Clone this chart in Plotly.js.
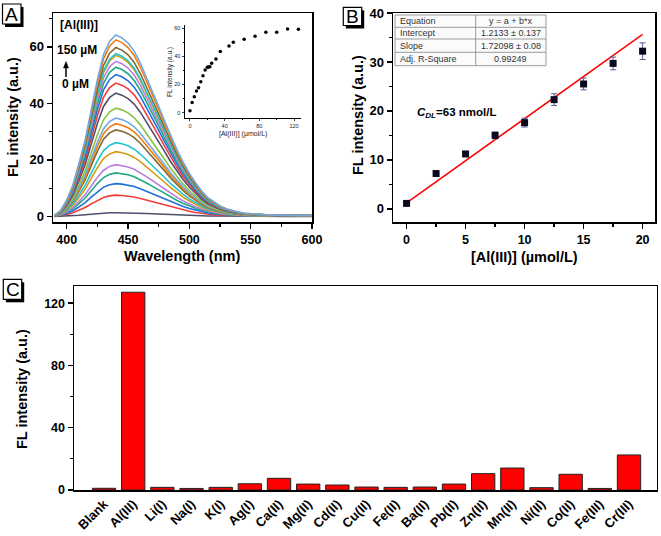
<!DOCTYPE html>
<html>
<head>
<meta charset="utf-8">
<script src="https://cdn.plot.ly/plotly-3.0.1.min.js"></script>
<style>html,body{margin:0;padding:0;background:#fff;}#chart{width:661px;height:536px;}</style>
</head>
<body>
<div id="chart"></div>
<script>
// ---------- Panel A data ----------
const wavelength = [390,395,400,405,410,415,420,425,430,435,440,445,450,455,460,465,470,475,480,485,490,495,500,505,510,515,520,525,530,535,540,545,550,555,560,565,570,575,580,585,590,595,600];
// highest spectrum (150 µM)
const topSpectrum = [0.3,2.0,5.7,11,18.7,27,37.7,48.4,57.3,62,64.2,63.2,61.4,58.5,54.3,49.3,44.2,38.9,33.6,28.2,23.5,19.1,15.2,11.9,9.0,6.6,5.1,3.7,2.7,2.0,1.5,1.1,0.9,0.7,0.6,0.5,0.45,0.4,0.35,0.3,0.3,0.3,0.3];
// peak heights of each spectrum (0 µM -> 150 µM)
const spectrumPeaks = [1.3,7.5,11.6,15.4,18.3,22.9,26.1,30.6,32.8,34.8,38.3,43.6,47.2,50.2,52.8,54.9,57.0,57.6,59.8,62.5,64.2];
const spectrumColors = ['#4f4f6e','#f23b3b','#1e6fdc','#22a884','#b97ee0','#d69a12','#20c5cc','#7e6a2e','#f57a12','#6ea8e6','#86c440'];
// inset
const insetConc = [0,2.5,5,7.5,10,12.5,15,17.5,20,21.5,23,25,30,35,45,50,62.5,75,87.5,100,112.5,125];
const insetFL = [1.4,7.3,11.4,15.4,17.8,22.0,26.3,30.4,32.3,32.5,32.6,35.1,38.2,43.4,47.4,50.0,52.2,54.3,57.1,57.1,59.5,59.3];

// ---------- Panel B data ----------
const linConc = [0,2.5,5,7.5,10,12.5,15,17.5,20];
const linFL = [1.1,7.2,11.2,15.0,17.6,22.3,25.5,29.7,32.2];
const linErr = [0.3,0.3,0.5,0.7,0.9,1.2,1.2,1.3,1.7];
const fitIntercept = 1.2133;
const fitSlope = 1.72098;
const fitRange = [0,20];
const tableLabels = ['Equation','Intercept','Slope','Adj. R-Square'];
const tableValues = ['y = a + b*x','1.2133 ± 0.137','1.72098 ± 0.08','0.99249'];

// ---------- Panel C data ----------
const ions = ['Blank','Al(III)','Li(I)','Na(I)','K(I)','Ag(I)','Ca(II)','Mg(II)','Cd(II)','Cu(II)','Fe(II)','Ba(II)','Pb(II)','Zn(II)','Mn(II)','Ni(II)','Co(II)','Fe(III)','Cr(III)'];
const ionFL = [1.1,127,1.7,1.0,1.7,4.0,7.5,3.8,3.2,1.9,1.7,1.9,3.8,10.5,14.1,1.5,10.1,1.0,22.5];

// ---------- helpers ----------
const W = 661, H = 536;
const px = x => x / W;
const py = y => 1 - y / H;
const FONT = 'Liberation Sans, Arial, sans-serif';

const traces = [];
const maxTop = Math.max(...topSpectrum);
spectrumPeaks.forEach((pk, i) => {
  traces.push({
    type: 'scatter', mode: 'lines', x: wavelength,
    y: topSpectrum.map(v => v * pk / maxTop),
    xaxis: 'x', yaxis: 'y',
    line: {color: spectrumColors[i % spectrumColors.length], width: 1.6},
    hoverinfo: 'skip', showlegend: false
  });
});
traces.push({
  type: 'scatter', mode: 'markers', x: insetConc, y: insetFL,
  xaxis: 'x4', yaxis: 'y4', marker: {color: '#000', size: 3.5}, showlegend: false
});
traces.push({
  type: 'scatter', mode: 'lines', x: fitRange,
  y: fitRange.map(v => fitIntercept + fitSlope * v),
  xaxis: 'x2', yaxis: 'y2', line: {color: '#ff0000', width: 1.5}, showlegend: false
});
traces.push({
  type: 'scatter', mode: 'markers', x: linConc, y: linFL,
  error_y: {type: 'data', array: linErr, color: '#5b5b95', thickness: 1, width: 3},
  xaxis: 'x2', yaxis: 'y2', marker: {symbol: 'square', color: '#0a0a1e', size: 7}, showlegend: false
});
traces.push({
  type: 'bar', x: ions, y: ionFL, xaxis: 'x3', yaxis: 'y3', width: 0.8,
  marker: {color: '#ff0000', line: {color: '#222', width: 1}}, showlegend: false
});

function ax(extra) {
  return Object.assign({
    showline: true, linecolor: '#000', linewidth: 1.5, mirror: true,
    ticks: 'outside', ticklen: 5, tickwidth: 1.5, tickcolor: '#000',
    showgrid: false, zeroline: false,
    tickfont: {family: FONT, size: 12.5, color: '#000', weight: 'bold'}
  }, extra);
}

const shapes = [];
const annotations = [];
function label(letter, x0, y0, x1, y1) {
  shapes.push({type: 'rect', xref: 'paper', yref: 'paper', x0: px(x0 + 2.5), x1: px(x1 + 2.5), y0: py(y1 + 3), y1: py(y0 + 3), fillcolor: '#000', line: {width: 0}});
  shapes.push({type: 'rect', xref: 'paper', yref: 'paper', x0: px(x0), x1: px(x1), y0: py(y1), y1: py(y0), fillcolor: '#fff', line: {color: '#000', width: 1.2}});
  annotations.push({xref: 'paper', yref: 'paper', x: px((x0 + x1) / 2), y: py((y0 + y1) / 2), text: letter, showarrow: false, xanchor: 'center', yanchor: 'middle', font: {family: FONT, size: 19, color: '#000'}});
}
label('A', 2.5, 4, 21, 24);
label('B', 343.3, 7.3, 361.7, 25.5);
label('C', 3.3, 279.3, 21.7, 299.3);

function txt(text, x, y, size, opts) {
  annotations.push(Object.assign({xref: 'paper', yref: 'paper', x: px(x), y: py(y), text: text, showarrow: false,
    xanchor: 'center', yanchor: 'middle', font: {family: FONT, size: size, color: '#000', weight: 'bold'}}, opts || {}));
}
// axis titles
txt('FL intensity (a.u.)', 13, 117, 14.5, {textangle: -90});
txt('Wavelength (nm)', 182.5, 256, 14.5);
txt('FL intensity (a.u.)', 358, 115, 14.5, {textangle: -90});
txt('[Al(III)] (µmol/L)', 524, 257, 14.5);
txt('FL intensity (a.u.)', 22, 389, 14.5, {textangle: -90});
// inset titles
txt('FL intensity (a.u.)', 170, 72, 6.5, {textangle: -90, font: {family: FONT, size: 6.5, color: '#222'}});
txt('[Al(III)] (µmol/L)', 243, 134, 7, {font: {family: FONT, size: 7, color: '#222'}});
// panel A notes
txt('[Al(III)]', 58, 25, 12, {xanchor: 'left'});
txt('150 µM', 77, 50, 12);
txt('0 µM', 75, 84, 12);
// up arrow
shapes.push({type: 'line', xref: 'paper', yref: 'paper', x0: px(66), x1: px(66), y0: py(77), y1: py(66), line: {color: '#000', width: 1.5}});
shapes.push({type: 'path', xref: 'paper', yref: 'paper',
  path: 'M ' + px(63.5) + ' ' + py(68) + ' L ' + px(66) + ' ' + py(61.5) + ' L ' + px(68.5) + ' ' + py(68) + ' Z',
  fillcolor: '#000', line: {color: '#000', width: 0.5}});
// panel B notes
txt('<i>C</i><sub><i>DL</i></sub>=63 nmol/L', 415, 113, 11.5, {xanchor: 'left'});
// table
const tX0 = 395, tX1 = 546, tXm = 475.7;
const rowEdges = [15, 27.3, 39, 52.3, 65.7];
shapes.push({type: 'rect', xref: 'paper', yref: 'paper', x0: px(tX0), x1: px(tX1), y0: py(rowEdges[4]), y1: py(rowEdges[0]), fillcolor: '#fbfbfb', line: {color: '#9a9a9a', width: 1}});
shapes.push({type: 'line', xref: 'paper', yref: 'paper', x0: px(tXm), x1: px(tXm), y0: py(rowEdges[4]), y1: py(rowEdges[0]), line: {color: '#9a9a9a', width: 1}});
for (let i = 1; i < 4; i++) {
  shapes.push({type: 'line', xref: 'paper', yref: 'paper', x0: px(tX0), x1: px(tX1), y0: py(rowEdges[i]), y1: py(rowEdges[i]), line: {color: '#9a9a9a', width: 1}});
}
tableLabels.forEach((t, i) => {
  const yc = (rowEdges[i] + rowEdges[i + 1]) / 2;
  txt(t, tX0 + 3, yc, 9, {xanchor: 'left', font: {family: FONT, size: 9, color: '#333'}});
  txt(tableValues[i], (tXm + tX1) / 2, yc, 9, {font: {family: FONT, size: 9, color: '#333'}});
});

const layout = {
  width: W, height: H,
  margin: {l: 0, r: 0, t: 0, b: 0},
  paper_bgcolor: '#fff', plot_bgcolor: '#fff',
  showlegend: false, bargap: 0.2,
  xaxis: ax({domain: [px(53), px(312)], range: [388.8, 600], anchor: 'y', dtick: 50, tick0: 0,
    minor: {dtick: 25, tick0: 0, ticklen: 3, tickwidth: 1.2, tickcolor: '#000', ticks: 'outside'}}),
  yaxis: ax({domain: [py(222), py(13)], range: [-2, 72], anchor: 'x', dtick: 20, tick0: 0,
    tickfont: {family: FONT, size: 13, color: '#000', weight: 'bold'},
    minor: {dtick: 10, tick0: 0, ticklen: 3, tickwidth: 1.2, tickcolor: '#000', ticks: 'outside'}}),
  xaxis2: ax({domain: [px(393), px(655)], range: [-1.15, 21.05], anchor: 'y2', dtick: 5, tick0: 0,
    minor: {dtick: 2.5, tick0: 0, ticklen: 3, tickwidth: 1.2, tickcolor: '#000', ticks: 'outside'}}),
  yaxis2: ax({domain: [py(222), py(13)], range: [-2.7, 40], anchor: 'x2', dtick: 10, tick0: 0,
    tickfont: {family: FONT, size: 13, color: '#000', weight: 'bold'},
    minor: {dtick: 5, tick0: 0, ticklen: 3, tickwidth: 1.2, tickcolor: '#000', ticks: 'outside'}}),
  xaxis3: ax({domain: [px(74), px(656.7)], range: [-1.03, 18.95], anchor: 'y3', type: 'category', ticks: '',
    tickangle: -45, tickfont: {family: FONT, size: 13, color: '#000', weight: 'bold'}}),
  yaxis3: ax({domain: [py(490), py(286)], range: [0, 131], anchor: 'x3', dtick: 40, tick0: 0,
    minor: {dtick: 20, tick0: 0, ticklen: 3, tickwidth: 1.2, tickcolor: '#000', ticks: 'outside'}}),
  xaxis4: {domain: [px(185), px(301)], range: [-5.7, 128], anchor: 'y4', showline: true, linecolor: '#000', linewidth: 1,
    ticks: 'outside', ticklen: 2.5, tickwidth: 1, dtick: 40, tick0: 0, showgrid: false, zeroline: false,
    minor: {dtick: 20, ticklen: 1.5, ticks: 'outside', tickcolor: '#000'},
    tickfont: {family: FONT, size: 5.5, color: '#222'}},
  yaxis4: {domain: [py(117.5), py(25)], range: [-3.4, 62.3], anchor: 'x4', showline: true, linecolor: '#000', linewidth: 1,
    ticks: 'outside', ticklen: 2.5, tickwidth: 1, dtick: 20, tick0: 0, showgrid: false, zeroline: false,
    minor: {dtick: 10, ticklen: 1.5, ticks: 'outside', tickcolor: '#000'},
    tickfont: {family: FONT, size: 5.5, color: '#222'}},
  shapes: shapes,
  annotations: annotations
};

Plotly.newPlot('chart', traces, layout, {staticPlot: true, displayModeBar: false});
</script>
</body>
</html>
